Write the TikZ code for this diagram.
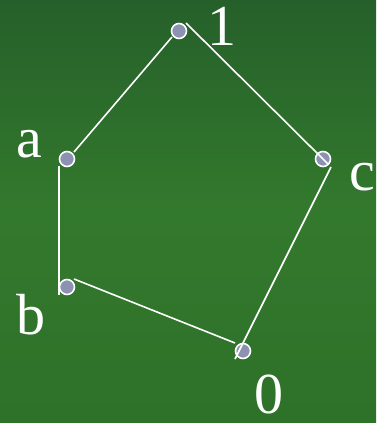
\documentclass[tikz,border=0pt]{standalone}
\usepackage{fontspec}
\setmainfont{Liberation Serif}
\begin{document}
\begin{tikzpicture}[x=1pt,y=-1pt,
  dot/.style={circle,draw=white,line width=1.6pt,fill=dotfill,minimum size=15pt,inner sep=0pt},
  edge/.style={draw=white,line width=1.6pt},
  lbl/.style={text=white,font=\fontsize{58}{58}\selectfont,inner sep=0pt,anchor=base}]
\definecolor{dotfill}{HTML}{8C93B2}
\definecolor{bgtop}{HTML}{25602A}
\definecolor{bgmid}{HTML}{33792D}
\definecolor{bgbot}{HTML}{2E7129}
\useasboundingbox (0,0) rectangle (376,423);
\shade[top color=bgtop,bottom color=bgbot,middle color=bgmid] (0,0) rectangle (376,423);
\node[dot] (n1) at (179,31) {};
\node[dot] (na) at (67,159) {};
\node[dot] (nb) at (67,287) {};
\node[dot] (nc) at (323,159) {};
\node[dot] (n0) at (243,351) {};
\node[lbl] (l1) at (222,45) {1};
\node[lbl] (la) at (29,157) {a};
\node[lbl] (lb) at (31,334) {b};
\node[lbl] (lc) at (362,190) {c};
\node[lbl] (l0) at (269,413) {0};
\draw[edge] ([shift={(7,-8)}]n1.center) -- ([shift={(5,5)}]nc.center);
\draw[edge] ([shift={(-7,6)}]n1.center) -- ([shift={(7,-7)}]na.center);
\draw[edge] ([shift={(-8,7)}]na.center) -- ([shift={(-8,8)}]nb.center);
\draw[edge] ([shift={(7,-8)}]nb.center) -- ([shift={(-8,-8)}]n0.center);
\draw[edge] ([shift={(8,8)}]nc.center) -- ([shift={(-8,8)}]n0.center);
\end{tikzpicture}
\end{document}
